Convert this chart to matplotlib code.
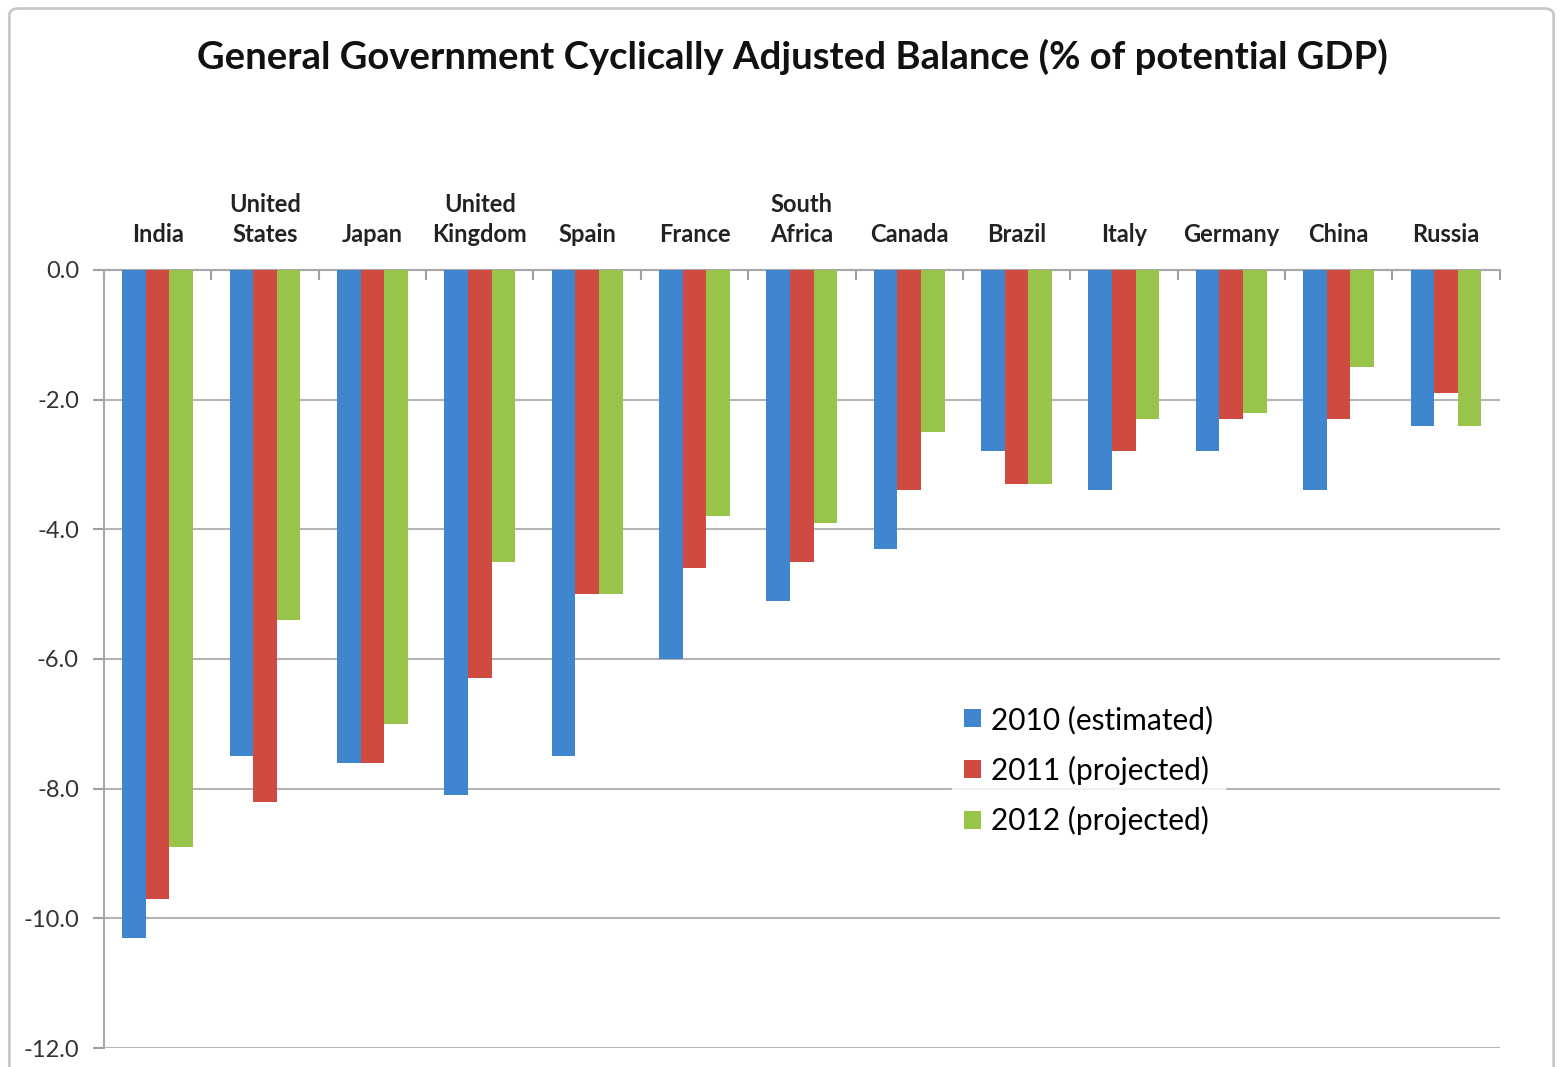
import numpy as np
import matplotlib.pyplot as plt
from matplotlib.patches import FancyBboxPatch

countries = ['India', 'United\nStates', 'Japan', 'United\nKingdom', 'Spain', 'France',
             'South\nAfrica', 'Canada', 'Brazil', 'Italy', 'Germany', 'China', 'Russia']
est_2010 = [-10.3, -7.5, -7.6, -8.1, -7.5, -6.0, -5.1, -4.3, -2.8, -3.4, -2.8, -3.4, -2.4]
proj_2011 = [-9.7, -8.2, -7.6, -6.3, -5.0, -4.6, -4.5, -3.4, -3.3, -2.8, -2.3, -2.3, -1.9]
proj_2012 = [-8.9, -5.4, -7.0, -4.5, -5.0, -3.8, -3.9, -2.5, -3.3, -2.3, -2.2, -1.5, -2.4]
series_names = ['2010 (estimated)', '2011 (projected)', '2012 (projected)']
colors = ['#3f86cf', '#cf4a40', '#98c44a']

plt.rcParams['font.family'] = ['Lato', 'DejaVu Sans']

fig = plt.figure(figsize=(15.63, 10.67), dpi=100)
fig.patches.append(FancyBboxPatch((0.006, -0.02), 0.988, 1.012, boxstyle='round,pad=0,rounding_size=0.006',
                                  transform=fig.transFigure, fill=False, edgecolor='#c8c8c8', lw=2))
ax = fig.add_axes([0.0665, 0.0178, 0.893, 0.7292])

x = np.arange(len(countries))
w = 0.22
for i, (vals, name) in enumerate(zip([est_2010, proj_2011, proj_2012], series_names)):
    ax.bar(x + (i - 1) * w, vals, w, color=colors[i], label=name, zorder=3)

ax.set_xlim(-0.5, len(countries) - 0.5)
ax.set_ylim(-12, 0)
ax.set_yticks(np.arange(-12, 0.1, 2))
ax.set_yticklabels([f'{v:.1f}' for v in np.arange(-12, 0.1, 2)])
ax.yaxis.grid(True, color='#b4b4b4', lw=1.5, zorder=0)

ax.xaxis.tick_top()
ax.set_xticks(x)
ax.set_xticklabels(countries, fontsize=17, fontweight='bold', color='#222222', linespacing=1.4)
ax.tick_params(axis='x', which='major', length=0, pad=17)
ax.set_xticks(np.arange(-0.5, len(countries)), minor=True)
ax.tick_params(axis='x', which='minor', direction='in', length=7, color='#a0a0a0', width=1.5, top=True)
ax.tick_params(axis='y', length=8, color='#a0a0a0', width=1.5, labelsize=17, labelcolor='#333333', pad=10)

for s in ['right', 'bottom']:
    ax.spines[s].set_visible(False)
for s in ['left', 'top']:
    ax.spines[s].set_color('#a8a8a8')
    ax.spines[s].set_linewidth(1.5)

leg = ax.legend(loc='upper left', bbox_to_anchor=(0.597, 0.475), frameon=True, fontsize=21.5,
                handlelength=0.55, handleheight=0.55, handletextpad=0.35, labelspacing=0.72,
                borderpad=0.4, fancybox=False)
leg.get_frame().set_facecolor('white')
leg.get_frame().set_edgecolor('white')
leg.set_zorder(5)

fig.text(0.507, 0.947, 'General Government Cyclically Adjusted Balance (% of potential GDP)',
         ha='center', va='center', fontsize=27.5, fontweight='bold', color='#111111')

fig.savefig('out.png', dpi=100)
